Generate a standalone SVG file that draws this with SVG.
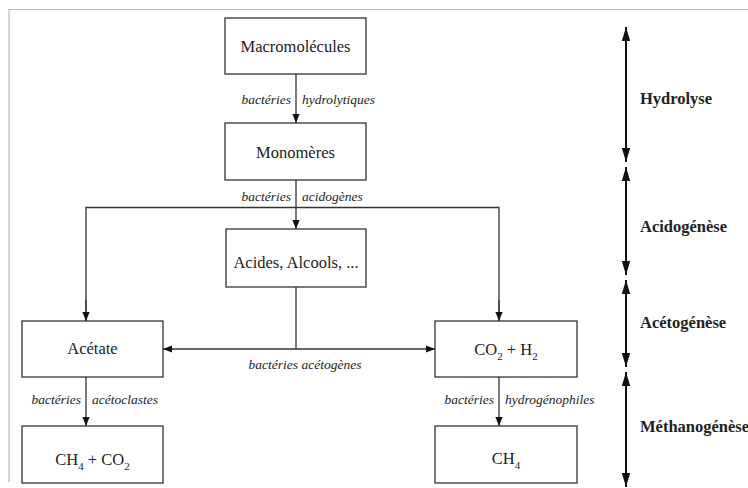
<svg xmlns="http://www.w3.org/2000/svg" width="748" height="488" viewBox="0 0 748 488">
<style>
.box{fill:#fff;stroke:#333;stroke-width:1.3}
.t{font-family:'Liberation Serif','Times New Roman',Times,'DejaVu Serif',serif;font-size:16.5px;fill:#222;text-anchor:middle}
.lab{font-family:'Liberation Serif','Times New Roman',Times,'DejaVu Serif',serif;font-style:italic;font-size:13.5px;fill:#222}
.ph{font-family:'Liberation Serif','Times New Roman',Times,'DejaVu Serif',serif;font-weight:bold;font-size:16.5px;fill:#222}
.c{fill:none;stroke:#333;stroke-width:1.3}
.p{fill:none;stroke:#111;stroke-width:2}
.sub{font-size:11px}
</style>
<defs>
<marker id="a" viewBox="0 0 10 10" refX="10" refY="5" markerWidth="9" markerHeight="9" markerUnits="userSpaceOnUse" orient="auto"><path d="M0,1 L10,5 L0,9 Z" fill="#111"/></marker>
<marker id="b" viewBox="0 0 10 10" refX="10" refY="5" markerWidth="14" markerHeight="14" markerUnits="userSpaceOnUse" orient="auto-start-reverse"><path d="M0,2 L10,5 L0,8 Z" fill="#111"/></marker>
</defs>
<rect width="748" height="488" fill="#fff"/>
<path d="M9,482 V9.5 H748" fill="none" stroke="#bdbdbd" stroke-width="1.2"/>

<g id="connectors">
<line class="c" x1="296" y1="74" x2="296" y2="123" marker-end="url(#a)"/>
<line class="c" x1="296" y1="180" x2="296" y2="229" marker-end="url(#a)"/>
<path class="c" d="M86,321 V207.5 H499 V321" />
<line class="c" x1="86" y1="300" x2="86" y2="321" marker-end="url(#a)"/>
<line class="c" x1="499" y1="300" x2="499" y2="321" marker-end="url(#a)"/>
<line class="c" x1="296" y1="287" x2="296" y2="349"/>
<line class="c" x1="296" y1="349" x2="163" y2="349" marker-end="url(#a)"/>
<line class="c" x1="296" y1="349" x2="435" y2="349" marker-end="url(#a)"/>
<line class="c" x1="86" y1="377" x2="86" y2="426" marker-end="url(#a)"/>
<line class="c" x1="499" y1="377" x2="499" y2="426" marker-end="url(#a)"/>
<text class="lab" x="291" y="104" text-anchor="end">bactéries</text>
<text class="lab" x="302" y="104">hydrolytiques</text>
<text class="lab" x="291" y="201" text-anchor="end">bactéries</text>
<text class="lab" x="302" y="201">acidogènes</text>
<text class="lab" x="305" y="369" text-anchor="middle">bactéries acétogènes</text>
<text class="lab" x="81" y="404" text-anchor="end">bactéries</text>
<text class="lab" x="92" y="404">acétoclastes</text>
<text class="lab" x="494" y="404" text-anchor="end">bactéries</text>
<text class="lab" x="505" y="404">hydrogénophiles</text>
</g>

<g id="macromolecules"><rect class="box" x="225" y="18" width="141" height="56"/><text class="t" x="295.5" y="52">Macromolécules</text></g>
<g id="monomeres"><rect class="box" x="225" y="123" width="141" height="57"/><text class="t" x="295.5" y="158">Monomères</text></g>
<g id="acides"><rect class="box" x="226" y="229" width="140" height="58"/><text class="t" x="296" y="268">Acides, Alcools, ...</text></g>
<g id="acetate"><rect class="box" x="22" y="321" width="141" height="56"/><text class="t" x="92.5" y="354">Acétate</text></g>
<g id="co2h2"><rect class="box" x="435" y="321" width="142" height="56"/><text class="t" x="506" y="355">CO<tspan class="sub" dy="5">2</tspan><tspan dy="-5"> + H</tspan><tspan class="sub" dy="5">2</tspan></text></g>
<g id="ch4co2"><rect class="box" x="22" y="426" width="141" height="57"/><text class="t" x="92.5" y="465">CH<tspan class="sub" dy="5">4</tspan><tspan dy="-5"> + CO</tspan><tspan class="sub" dy="5">2</tspan></text></g>
<g id="ch4"><rect class="box" x="435" y="426" width="142" height="57"/><text class="t" x="506" y="464">CH<tspan class="sub" dy="5">4</tspan></text></g>

<g id="phases">
<line class="p" x1="626" y1="27" x2="626" y2="162" marker-start="url(#b)" marker-end="url(#b)"/>
<line class="p" x1="626" y1="167" x2="626" y2="275" marker-start="url(#b)" marker-end="url(#b)"/>
<line class="p" x1="626" y1="280" x2="626" y2="367" marker-start="url(#b)" marker-end="url(#b)"/>
<line class="p" x1="626" y1="372" x2="626" y2="487" marker-start="url(#b)" marker-end="url(#b)"/>
<text class="ph" x="640" y="104">Hydrolyse</text>
<text class="ph" x="640" y="232">Acidogénèse</text>
<text class="ph" x="640" y="328">Acétogénèse</text>
<text class="ph" x="640" y="432">Méthanogénèse</text>
</g>
</svg>
